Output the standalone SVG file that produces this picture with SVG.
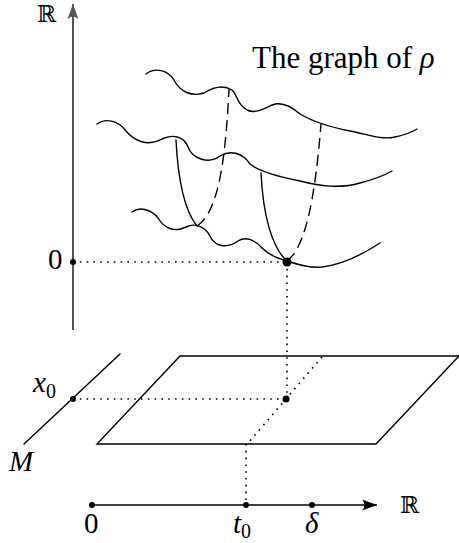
<svg xmlns="http://www.w3.org/2000/svg" width="459" height="543" viewBox="0 0 459 543">
<style>
.c{fill:none;stroke:#000;stroke-width:1.4;stroke-linecap:round}
.d{fill:none;stroke:#000;stroke-width:1.4;stroke-dasharray:11 6}
.dot{fill:none;stroke:#000;stroke-width:1.6;stroke-dasharray:1.6 5.2}
.t{font-family:"Liberation Serif",serif;font-size:29px;fill:#000}
.ttl{font-size:31px}
.i{font-style:italic}
.sub{font-style:normal;font-size:20px}
.bb{font-family:"DejaVu Serif",serif;font-size:23px;fill:#000}
</style>
<defs>
<marker id="ah" markerWidth="20" markerHeight="14" viewBox="-16 -7 18 14" refX="0" refY="0" orient="auto" markerUnits="userSpaceOnUse">
<path d="M0,0 L-15,-5.5 Q-10,0 -15,5.5 Z" fill="context-stroke"/>
</marker>
</defs>
<rect width="459" height="543" fill="#fff"/>
<g id="connectors">
<line x1="73" y1="330" x2="73" y2="4" stroke="#555" stroke-width="2" marker-end="url(#ah)"/>
<line x1="92" y1="505" x2="377" y2="505" stroke="#000" stroke-width="1.4" marker-end="url(#ah)"/>
<line class="dot" x1="73" y1="262" x2="287" y2="262"/>
<line class="dot" x1="287" y1="262" x2="287" y2="399"/>
<line class="dot" x1="73" y1="399" x2="286" y2="399"/>
<line class="dot" x1="322" y1="357" x2="249" y2="442"/>
<line class="dot" x1="246" y1="444" x2="246" y2="505"/>
</g>
<g id="plane">
<path class="c" d="M180,356 L459,356 L376,444 L97,444 Z" stroke-linejoin="miter"/>
</g>
<g id="M">
<line class="c" x1="24" y1="444" x2="120" y2="354"/>
</g>
<g id="curveA"><path class="c" d="M146,74 C155,67 168,70 174,80 C180,92 192,97 204,93 C212,88 222,84 232,90 C238,95 236,104 247,110 C255,114 264,109 272,105 C282,101 292,107 300,114 C310,120 330,127 350,131 C370,135 382,140 395,137 C405,135 412,132 417,129"/></g>
<g id="curveB"><path class="c" d="M97,124 C105,118 118,120 126,131 C134,141 148,147 162,139 C172,134 184,136 188,147 C192,158 208,165 220,156 C230,150 242,152 250,164 C260,172 280,177 300,181 C320,186 340,189 360,183 C375,179 385,175 392,171"/></g>
<g id="curveC"><path class="c" d="M132,212 C140,206 152,210 158,218 C164,228 174,233 186,227 C196,222 206,228 210,236 C214,245 225,250 238,241 C246,236 255,240 262,248 C270,256 280,259 290,262 C300,265 310,268 322,267 C340,265 360,256 380,243"/></g>
<g id="parabola1">
<path class="c" d="M176,140 C178,180 184,210 197,226"/>
<path class="d" d="M197,226 C220,212 226,150 229,89"/>
</g>
<g id="parabola2">
<path class="c" d="M261,173 C263,215 272,248 287,261"/>
<path class="d" d="M287,261 C305,248 315,200 321,124"/>
</g>
<g id="points">
<circle cx="287" cy="262" r="4.5"/>
<circle cx="73" cy="262" r="3"/>
<circle cx="286" cy="399" r="3.5"/>
<circle cx="73" cy="399" r="3"/>
<circle cx="92" cy="505" r="3"/>
<circle cx="246" cy="505" r="3"/>
<circle cx="312" cy="505" r="3"/>
</g>
<g id="labels">
<text class="bb" x="37" y="22">ℝ</text>
<text class="bb" x="400" y="513">ℝ</text>
<text class="t ttl" x="252" y="68">The graph of <tspan class="i">ρ</tspan></text>
<text class="t" x="48" y="269">0</text>
<text class="t" x="84" y="533">0</text>
<text class="t i" x="33" y="392">x<tspan class="sub" dy="6">0</tspan></text>
<text class="t i" x="9" y="471">M</text>
<text class="t i" x="233" y="533">t<tspan class="sub" dy="5">0</tspan></text>
<text class="t i" x="305" y="533">δ</text>
</g>
</svg>
